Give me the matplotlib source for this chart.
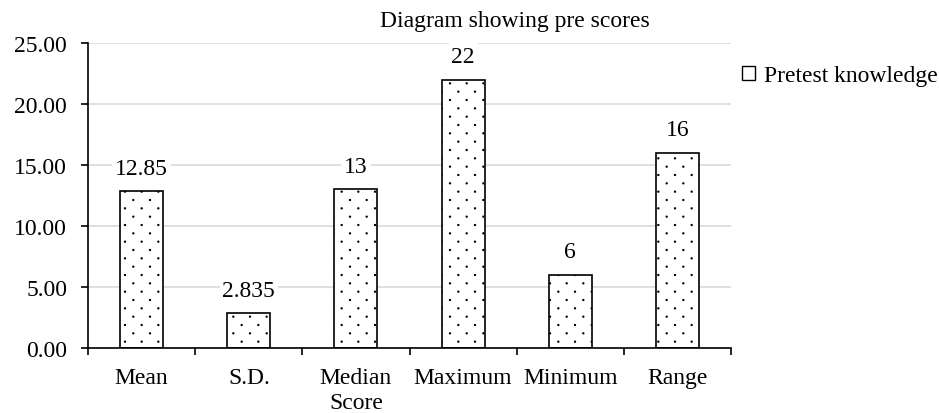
import matplotlib
matplotlib.use("Agg")
import numpy as np
import matplotlib.pyplot as plt
import matplotlib.hatch as mhatch
from matplotlib.path import Path
from matplotlib.patches import Patch

categories = ["Mean", "S.D.", "Median\nScore", "Maximum", "Minimum", "Range"]
values = [12.85, 2.835, 13, 22, 6, 16]
labels = ["12.85", "2.835", "13", "22", "6", "16"]
yticks = [0, 5, 10, 15, 20, 25]
ytick_labels = ["0.00", "5.00", "10.00", "15.00", "20.00", "25.00"]


# Custom sparse dot hatch (offset rows, denser vertically) replacing '.'
class SparseDots(mhatch.HatchPatternBase):
    filled = True

    def __init__(self, hatch, density):
        n = hatch.count('.') * density
        self.n = n
        path = Path.unit_circle()
        self.shape_vertices = path.vertices
        self.shape_codes = path.codes
        if n == 0:
            self.num_vertices = 0
        else:
            nshapes = (n + 1) * (n + 1) + n * n
            self.num_vertices = nshapes * len(self.shape_vertices)

    def set_vertices_and_codes(self, vertices, codes):
        n = self.n
        step = 1.0 / n
        sv = self.shape_vertices * 0.006
        vparts, cparts = [], []
        for r in range(2 * n + 1):
            y = r * step / 2
            if r % 2 == 0:
                cols = np.linspace(0, 1, n + 1)
            else:
                cols = np.linspace(step / 2, 1 - step / 2, n)
            for c in cols:
                vparts.append(sv + [c, y])
                cparts.append(self.shape_codes)
        np.concatenate(vparts, out=vertices)
        np.concatenate(cparts, out=codes)


mhatch._hatch_types = [SparseDots if t is mhatch.SmallFilledCircles else t
                       for t in mhatch._hatch_types]

plt.rcParams['font.family'] = ['Liberation Serif', 'DejaVu Serif']
plt.rcParams['hatch.linewidth'] = 0.8

fig = plt.figure(figsize=(9.39, 4.14), dpi=100)
ax = fig.add_axes([88/939, 1-349/414, (731-88)/939, (349-44)/414])

x = list(range(len(categories)))
ax.bar(x, values, width=0.4, color='white', edgecolor='black',
       linewidth=1.2, hatch='.', zorder=3)

for xi, v, lab in zip(x, values, labels):
    ax.annotate(lab, (xi, v), xytext=(0, 9), textcoords='offset points',
                ha='center', va='bottom', fontsize=17, zorder=5,
                bbox=dict(facecolor='white', edgecolor='none', pad=2))

ax.set_xlim(-0.5, len(categories) - 0.5)
ax.set_ylim(0, 25)
ax.set_yticks(yticks)
ax.set_yticklabels(ytick_labels, fontsize=17)
ax.set_xticks(x)
ax.set_xticklabels(categories, fontsize=17, linespacing=1.2)
ax.tick_params(axis='x', length=0, pad=14)
ax.set_xticks([i - 0.5 for i in range(len(categories) + 1)], minor=True)
ax.tick_params(axis='x', which='minor', length=5, width=1.2, direction='out')
ax.tick_params(axis='y', length=5, width=1.2, direction='out', pad=10)

ax.yaxis.grid(True, color='#d9d9d9', linewidth=1.2, zorder=0)
ax.set_axisbelow(True)
for s in ['top', 'right']:
    ax.spines[s].set_visible(False)
for s in ['left', 'bottom']:
    ax.spines[s].set_linewidth(1.2)
    ax.spines[s].set_zorder(4)

fig.text(515/939, 1-22/414, "Diagram showing pre scores", ha='center', va='center', fontsize=17)

handle = Patch(facecolor='white', edgecolor='black', linewidth=1)
fig.legend([handle], ['Pretest knowledge'], loc='center left',
           bbox_to_anchor=(742/939, 1-77/414), frameon=False, fontsize=17,
           handlelength=0.55, handleheight=0.55, handletextpad=0.38,
           borderpad=0, borderaxespad=0)

fig.savefig("out.png", dpi=100)
